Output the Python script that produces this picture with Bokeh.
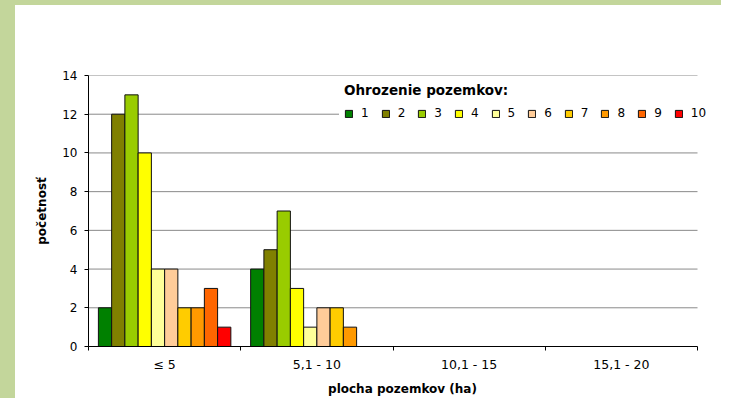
from bokeh.plotting import figure
from bokeh.models import (ColumnDataSource, FixedTicker, Legend, LegendItem,
                          Range1d, Spacer)
from bokeh.transform import dodge
from bokeh.layouts import row, column
from bokeh.embed import file_html
from bokeh.resources import INLINE

# ---- data ----
categories = ["≤ 5", "5,1 - 10", "10,1 - 15", "15,1 - 20"]
levels = ["1", "2", "3", "4", "5", "6", "7", "8", "9", "10"]
s1 = [2, 4, 0, 0]
s2 = [12, 5, 0, 0]
s3 = [13, 7, 0, 0]
s4 = [10, 3, 0, 0]
s5 = [4, 1, 0, 0]
s6 = [4, 2, 0, 0]
s7 = [2, 2, 0, 0]
s8 = [2, 1, 0, 0]
s9 = [3, 0, 0, 0]
s10 = [1, 0, 0, 0]
series = [s1, s2, s3, s4, s5, s6, s7, s8, s9, s10]
colors = ["#008000", "#808000", "#99CC00", "#FFFF00", "#FFFF99",
          "#FFCC99", "#FFCC00", "#FF9900", "#FF6600", "#FF0000"]
y_ticks = [0, 2, 4, 6, 8, 10, 12, 14]

FONT = "DejaVu Sans"
GREEN = "#C3D69B"
GRID = "#8a8a8a"

n = len(categories)
data = {"xc": [i + 0.5 for i in range(n)]}
for k, s in enumerate(series):
    data["s%d" % k] = s
src = ColumnDataSource(data)

# frame is a bit wider than the category area so the legend is not clipped
data_w = 609.0
frame_w = 628.0
x_end = n * frame_w / data_w

p = figure(width=706, height=393, output_backend="svg", toolbar_location=None,
           x_range=Range1d(0, x_end), y_range=Range1d(0, y_ticks[-1]),
           min_border_left=73, min_border_right=5, min_border_top=70,
           min_border_bottom=52)
p.outline_line_color = None
p.background_fill_color = "white"
p.border_fill_color = "white"
p.xgrid.grid_line_color = None
p.ygrid.grid_line_color = None

# horizontal gridlines over the category area only
grid_y = y_ticks[1:]
p.segment(x0=[0] * len(grid_y), x1=[n] * len(grid_y), y0=grid_y, y1=grid_y,
          line_color=GRID, line_width=1)

bw = 0.087
items = []
for k, (lvl, col) in enumerate(zip(levels, colors)):
    r = p.vbar(x=dodge("xc", (k - 4.5) * bw, range=p.x_range), top="s%d" % k,
               width=bw, source=src, fill_color=col, line_color="#111111",
               line_width=1)
    items.append(LegendItem(label=lvl, renderers=[r]))

legend = Legend(items=items, orientation="horizontal", location=(251, 221),
                title="Ohrozenie pozemkov:", title_text_font=FONT,
                title_text_font_style="bold", title_text_font_size="13.5px",
                title_text_color="black", title_standoff=8,
                label_text_font=FONT, label_text_font_size="12px",
                label_text_color="black", label_standoff=8, label_width=0,
                label_height=12, glyph_width=9, glyph_height=9, spacing=12,
                padding=5, margin=0, border_line_alpha=0,
                background_fill_color="white", background_fill_alpha=1)
p.add_layout(legend, "center")

# x axis: labels between boundary ticks
xa = p.xaxis[0]
xa.bounds = (0, n)
xa.ticker = FixedTicker(ticks=data["xc"], minor_ticks=list(range(n + 1)))
xa.major_label_overrides = {c: lab for c, lab in zip(data["xc"], categories)}
xa.major_tick_in = 0
xa.major_tick_out = 0
xa.minor_tick_in = 0
xa.minor_tick_out = 4
xa.minor_tick_line_color = "black"
xa.axis_line_color = "black"
xa.major_label_standoff = 6
xa.major_label_text_font = FONT
xa.major_label_text_font_size = "12.5px"
xa.major_label_text_color = "black"
xa.axis_label = "plocha pozemkov (ha)"
xa.axis_label_text_font = FONT
xa.axis_label_text_font_size = "12px"
xa.axis_label_text_font_style = "bold"
xa.axis_label_text_color = "black"
xa.axis_label_standoff = 7

ya = p.yaxis[0]
ya.ticker = FixedTicker(ticks=y_ticks)
ya.major_tick_in = 0
ya.major_tick_out = 4
ya.minor_tick_line_color = None
ya.major_tick_line_color = "black"
ya.axis_line_color = "black"
ya.major_label_standoff = 7
ya.major_label_text_font = FONT
ya.major_label_text_font_size = "12px"
ya.major_label_text_color = "black"
ya.axis_label = "početnosť"
ya.axis_label_text_font = FONT
ya.axis_label_text_font_size = "12px"
ya.axis_label_text_font_style = "bold"
ya.axis_label_text_color = "black"
ya.axis_label_standoff = 10

top_band = Spacer(width=721, height=5, margin=0,
                  styles={"background-color": GREEN})
left_band = Spacer(width=15, height=393, margin=0,
                   styles={"background-color": GREEN})
layout = column(top_band, row(left_band, p, spacing=0), spacing=0)

open("out.html", "w").write(file_html(layout, INLINE))
